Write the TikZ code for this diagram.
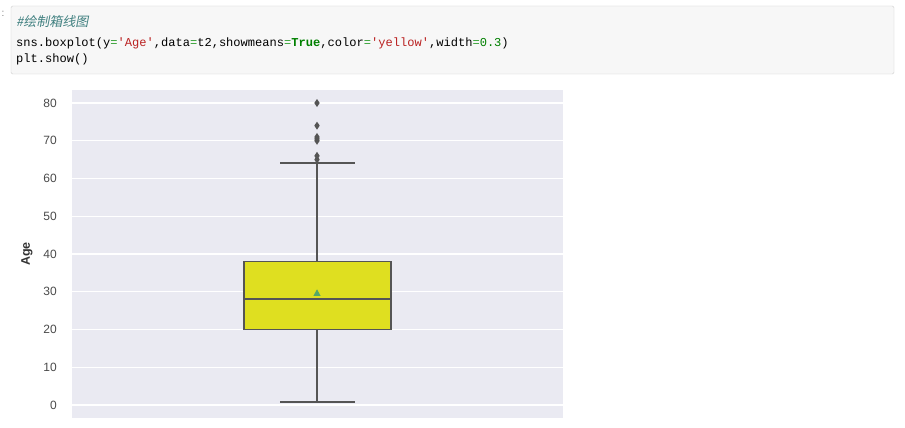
\documentclass[tikz,border=0pt]{standalone}
\usepackage{fontspec}
\setmainfont{Liberation Sans}
\setmonofont{Liberation Mono}
\newfontfamily\cjk{Noto Sans CJK SC}[FakeSlant=0.2]
\usepackage{xcolor}
\definecolor{cellbg}{HTML}{F7F7F7}
\definecolor{cellrule}{HTML}{CFCFCF}
\definecolor{axbg}{HTML}{EAEAF2}
\definecolor{tickgray}{HTML}{4A4A4A}
\definecolor{boxgray}{HTML}{555555}
\definecolor{boxfill}{HTML}{DFDF20}
\definecolor{meangreen}{HTML}{55A868}
\definecolor{opgreen}{HTML}{2E9E2E}
\definecolor{kwgreen}{HTML}{008000}
\definecolor{strred}{HTML}{BA2121}
\definecolor{comment}{HTML}{408080}
\newcommand\eq{\textcolor{opgreen}{=}}
\newcommand\str[1]{\textcolor{strred}{#1}}
\tikzset{ticklab/.style = {anchor=east, inner sep=0pt, text=tickgray,
  font=\fontsize{12}{12}\selectfont},
  codeline/.style = {anchor=base west, inner sep=0pt,
  font=\ttfamily\fontsize{12.07}{14}\selectfont},
  boxline/.style = {draw=boxgray, line width=1.8pt}}

\begin{document}
\begin{tikzpicture}[x=1pt,y=-1pt,line cap=butt]
  \fill[white] (0,0) rectangle (905,428);
  \useasboundingbox (0,0) rectangle (905,428);
  % code cell
  \node[text=gray,inner sep=0pt] (pr) at (3,14) {:};
  \draw[cellrule,fill=cellbg,rounded corners=1.5pt] (11,6) rectangle (894,74);
  \node[codeline,text=comment] (c1) at (16,26.5) {\cjk\fontsize{13}{14}\selectfont\#绘制箱线图};
  \node[codeline] (c2) at (16,47) {sns.boxplot(y\eq\str{'Age'},data\eq t2,showmeans\eq\textbf{\textcolor{kwgreen}{True}},color\eq\str{'yellow'},width\eq\textcolor{kwgreen}{0.3})};
  \node[codeline] (c3) at (16,63) {plt.show()};
  % axes
  \fill[axbg] (72,90) rectangle (563,418);
  \node[rotate=90,inner sep=0pt,text=black!80,font=\bfseries\fontsize{12.5}{12.5}\selectfont] (ylab) at (27,254) {Age};
  \begin{scope}[shift={(0,405)},y=3.775pt]
    \foreach \v in {0,10,...,80} {
      \draw[white,line width=1.2pt] (72,\v) -- (563,\v);
      \node[ticklab] (t\v) at (57,\v) {\v};
    }
    % whiskers and box
    \draw[boxline] (317,38) -- (317,64) (317,20) -- (317,0.67);
    \draw[boxline,line width=2pt] (280,64) -- (355,64) (280,0.67) -- (355,0.67);
    \draw[boxline,fill=boxfill] (244,20) rectangle (391,38);
    \draw[boxline,line width=2pt] (244,28) -- (391,28);
    \fill[meangreen] (317,29.7) +(0,3.6pt) -- +(3.6pt,-3pt) -- +(-3.6pt,-3pt) -- cycle;
    % outliers
    \foreach \v in {65,66,70,70.5,71,74,80}
      \fill[boxgray] (317,\v) +(0,4pt) -- +(2.7pt,0) -- +(0,-4pt) -- +(-2.7pt,0) -- cycle;
  \end{scope}
\end{tikzpicture}
\end{document}
